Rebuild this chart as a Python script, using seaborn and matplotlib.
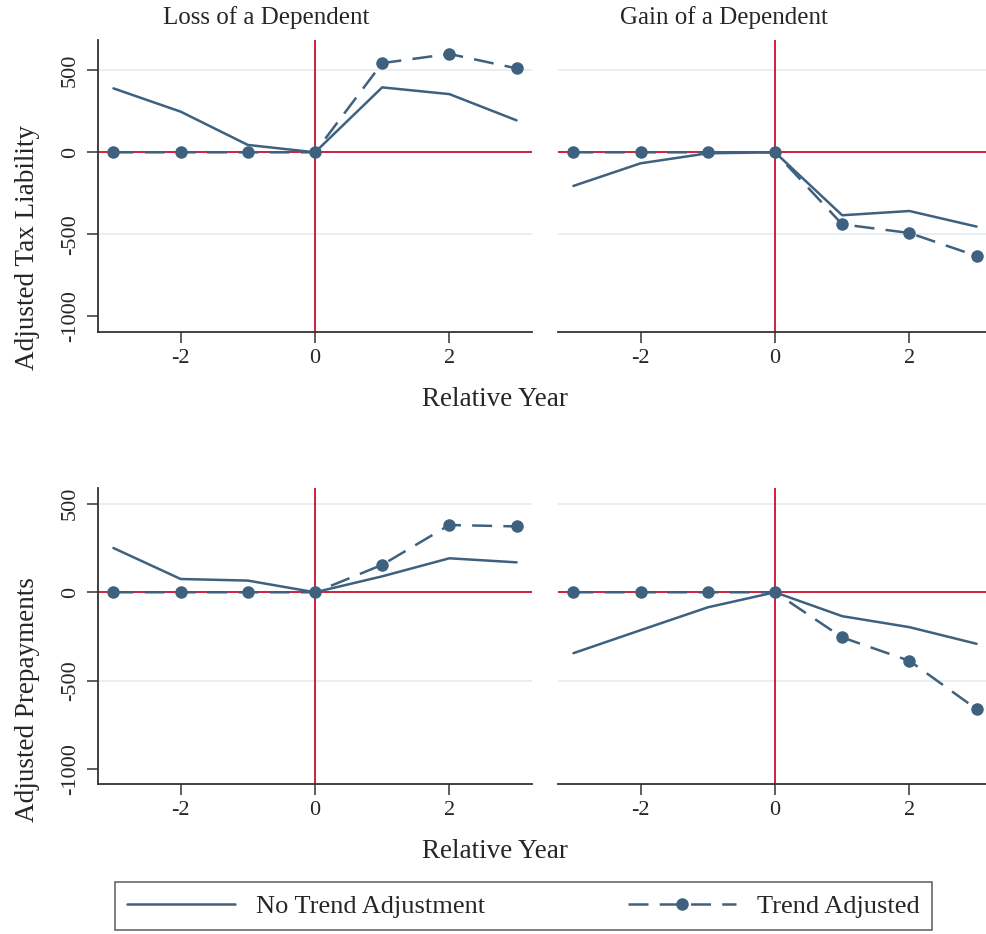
import numpy as np
import pandas as pd
import matplotlib
matplotlib.use("Agg")
import matplotlib.pyplot as plt
import seaborn as sns

# ---- data -----------------------------------------------------------------
years = [-3, -2, -1, 0, 1, 2, 3]

tax_loss_raw = [390, 248, 45, 0, 396, 355, 195]
tax_loss_adj = [0, 0, 0, 0, 544, 600, 512]
tax_gain_raw = [-205, -67, -6, 0, -384, -358, -453]
tax_gain_adj = [0, 0, 0, 0, -439, -492, -632]

pre_loss_raw = [250, 75, 66, 0, 90, 192, 169]
pre_loss_adj = [0, 0, 0, 0, 155, 380, 372]
pre_gain_raw = [-344, -214, -85, 0, -135, -197, -291]
pre_gain_adj = [0, 0, 0, 0, -255, -387, -660]

panel_titles = ["Loss of a Dependent", "Gain of a Dependent"]
row_labels = ["Adjusted Tax Liability", "Adjusted Prepayments"]
series_labels = ["No Trend Adjustment", "Trend Adjusted"]
x_ticks = [-2, 0, 2]
y_ticks = [-1000, -500, 0, 500]

# ---- style ----------------------------------------------------------------
sns.set_theme(style="white")
plt.rcParams["font.family"] = ["Liberation Serif", "DejaVu Serif"]
plt.rcParams["axes.unicode_minus"] = False

LINE = "#3e617f"
REF = "#c8102e"
GRID = "#e8eff1"
AXC = "#333333"

W, H = 987, 934
fig = plt.figure(figsize=(W / 100, H / 100), dpi=100)


def px_axes(left, top, right, bottom):
    return fig.add_axes([left / W, 1 - bottom / H, (right - left) / W, (bottom - top) / H])


panels = [
    (px_axes(98, 40, 532, 332), tax_loss_raw, tax_loss_adj, (-1096, 685), True),
    (px_axes(558, 40, 992, 332), tax_gain_raw, tax_gain_adj, (-1096, 685), False),
    (px_axes(98, 488, 532, 784), pre_loss_raw, pre_loss_adj, (-1083, 589), True),
    (px_axes(558, 488, 992, 784), pre_gain_raw, pre_gain_adj, (-1083, 589), False),
]

for ax, raw, adj, ylim, show_y in panels:
    df = pd.DataFrame({"year": years, "raw": raw, "adj": adj})
    ax.set_xlim(-3.23, 3.23)
    ax.set_ylim(*ylim)

    for v in (-500, 500):
        ax.axhline(v, color=GRID, lw=1.4, zorder=0.5)
    ax.axhline(0, color=REF, lw=1.3, zorder=1.5)
    ax.axvline(0, color=REF, lw=1.3, zorder=1.5)

    sns.lineplot(data=df, x="year", y="raw", ax=ax, color=LINE, lw=1.8,
                 zorder=3, label=series_labels[0], legend=False)
    sns.lineplot(data=df, x="year", y="adj", ax=ax, color=LINE, lw=1.8,
                 linestyle=(0, (8, 4.5)), marker="o", markersize=9,
                 markeredgewidth=0, zorder=3, label=series_labels[1], legend=False)

    ax.set_xlabel("")
    ax.set_ylabel("")
    ax.set_xticks(x_ticks)
    ax.set_xticklabels([str(t) for t in x_ticks], fontsize=16)
    ax.tick_params(axis="x", length=8, width=1.1, color=AXC, pad=4, direction="out",
                   bottom=True)
    for s in ("top", "right"):
        ax.spines[s].set_visible(False)
    ax.spines["bottom"].set_color(AXC)
    ax.spines["bottom"].set_linewidth(1.3)
    if show_y:
        ax.set_yticks(y_ticks)
        ax.set_yticklabels([str(t) for t in y_ticks], fontsize=16, rotation=90,
                           va="center")
        ax.tick_params(axis="y", length=8, width=1.1, color=AXC, pad=5, direction="out",
                       left=True)
        ax.spines["left"].set_color(AXC)
        ax.spines["left"].set_linewidth(1.3)
    else:
        ax.spines["left"].set_visible(False)
        ax.set_yticks([])

# panel titles and axis titles
fig.text(266 / W, 1 - 18 / H, panel_titles[0], ha="center", va="center", fontsize=18)
fig.text(724 / W, 1 - 18 / H, panel_titles[1], ha="center", va="center", fontsize=18)
for yc in (400, 852):
    fig.text(495 / W, 1 - yc / H, "Relative Year", ha="center", va="center",
             fontsize=19.5)
fig.text(28 / W, 1 - 248 / H, row_labels[0], ha="center", va="center",
         rotation=90, fontsize=19.5)
fig.text(28 / W, 1 - 700 / H, row_labels[1], ha="center", va="center",
         rotation=90, fontsize=19.5)

# shared legend
handles, labels = panels[0][0].get_legend_handles_labels()
leg = fig.legend(handles, labels, loc="center", ncol=2, fontsize=19,
                 bbox_to_anchor=(115 / W, 1 - 932 / H, 817 / W, 52 / H),
                 mode="expand", frameon=True, fancybox=False, edgecolor=AXC,
                 handlelength=4.1, handletextpad=0.8, columnspacing=3.0,
                 borderpad=0.45, borderaxespad=0)
leg.get_frame().set_linewidth(1.1)

fig.savefig("out.png", dpi=100)
